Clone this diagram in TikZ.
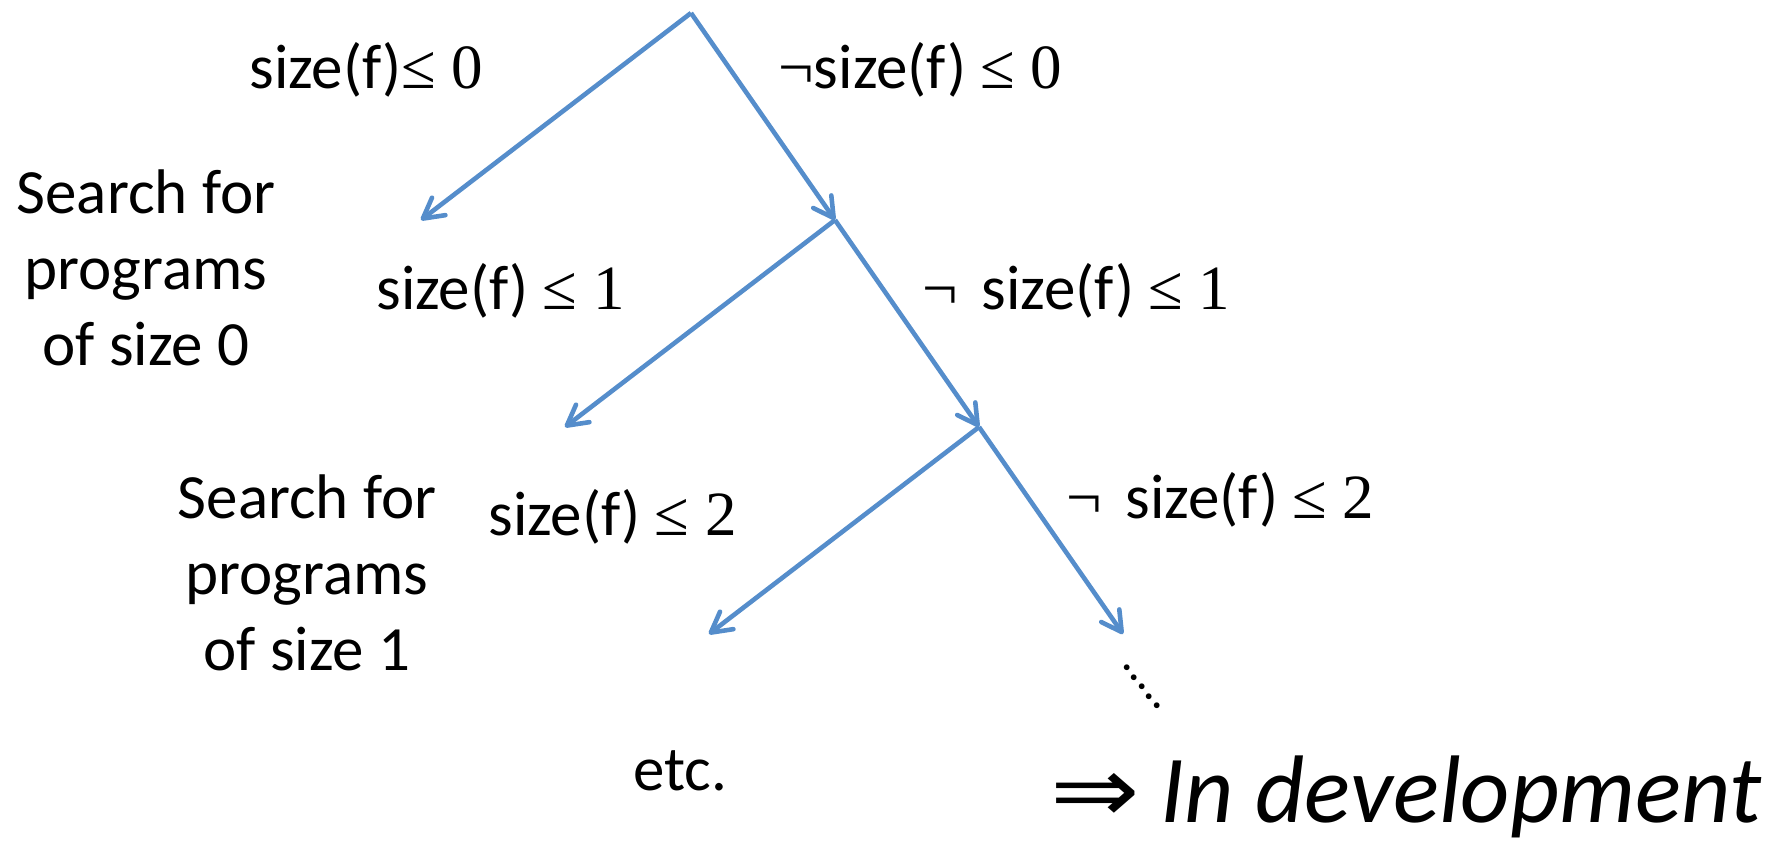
\documentclass[tikz,border=0pt]{standalone}
\usepackage{fontspec}
\setmainfont{Carlito}
\newfontfamily\tnr{Liberation Serif}
\newfontfamily\sym{DejaVu Sans}
\usetikzlibrary{arrows.meta}
\definecolor{edgeblue}{RGB}{85,141,203}
\begin{document}
\begin{tikzpicture}[x=0.5pt,y=-0.5pt,
  edge/.style={draw=edgeblue, line width=2.3pt, -{Straight Barb[length=10pt,width=11pt,round]}},
  lbl/.style={inner sep=0pt, anchor=base west, font=\fontsize{31.5}{38}\selectfont},
  block/.style={inner sep=0pt, align=center, anchor=north, font=\fontsize{31.5}{38}\selectfont}]
\useasboundingbox (0,0) rectangle (1787,845);
% tree points
\coordinate (n0) at (691,13);
\coordinate (n1) at (835,220);
\coordinate (n2) at (979,427);
\coordinate (n3) at (1123,634);
\coordinate (l1) at (421,220);
\coordinate (l2) at (565,427);
\coordinate (l3) at (709,634);
\draw[edge] (n0) -- (l1);
\draw[edge] (n0) -- (n1);
\draw[edge] (n1) -- (l2);
\draw[edge] (n1) -- (n2);
\draw[edge] (n2) -- (l3);
\draw[edge] (n2) -- (n3);
% labels
\node[lbl] (a0) at (249,89) {size(f){\tnr≤ 0}};
\node[lbl] (b0) at (778,89) {{\tnr¬}size(f) {\tnr≤ 0}};
\node[lbl] (a1) at (376,309) {size(f) {\tnr≤ 1}};
\node[lbl] (b1) at (922,309) {{\tnr¬}\hspace{0.38em}size(f) {\tnr≤ 1}};
\node[lbl] (a2) at (488,535) {size(f) {\tnr≤ 2}};
\node[lbl] (b2) at (1066,518) {{\tnr¬}\hspace{0.38em}size(f) {\tnr≤ 2}};
\node[block] (s0) at (146,169) {Search for\\programs\\of size 0};
\node[block] (s1) at (307,474) {Search for\\programs\\of size 1};
\node[lbl] (etc) at (633,790) {etc.};
\node[inner sep=0pt, rotate=-52.5, font=\fontsize{24}{28}\selectfont] (dots) at (1142,687) {.....};
\node[inner sep=0pt, anchor=base west, font=\fontsize{46.5}{56}\selectfont] (arr) at (1050,822) {\sym\scalebox{1.15}[1]{⇒}};
\node[inner sep=0pt, anchor=base west, font=\fontsize{48}{58}\selectfont] (dev) at (1160,822) {\itshape In development};
\end{tikzpicture}
\end{document}
